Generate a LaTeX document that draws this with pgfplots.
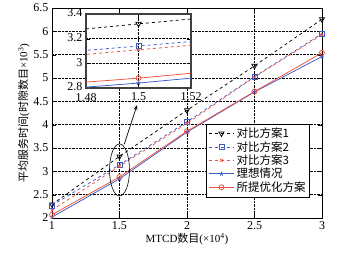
\documentclass[border=0pt]{standalone}
\usepackage{fontspec}
\setmainfont{Liberation Serif}
\newfontfamily\cjk{Noto Sans CJK SC}
\usepackage{pgfplots}
\pgfplotsset{compat=1.18}
\usetikzlibrary{calc,arrows.meta}
\definecolor{cblue}{RGB}{60,90,200}
\definecolor{cred}{RGB}{240,80,60}
\begin{document}
\begin{tikzpicture}
\pgfplotsset{every axis/.append style={/pgf/number format/assume math mode=true},
  every axis plot/.append style={line width=0.75pt},
  legend image code/.code={\draw[mark repeat=2,mark phase=2] plot coordinates {(0cm,0cm) (0.45cm,0cm) (0.9cm,0cm)};}}
\begin{axis}[name=main, scale only axis, width=270pt, height=210pt,
  xmin=1, xmax=3, ymin=2, ymax=6.5,
  xtick={1,1.5,2,2.5,3}, ytick={2,2.5,3,3.5,4,4.5,5,5.5,6,6.5},
  grid=major, major grid style={black, densely dotted, line width=0.4pt},
  tick align=inside, tick style={black}, axis line style={black, line width=0.6pt},
  ticklabel style={font=\fontsize{12}{13}\selectfont},
  xlabel={MTCD{\cjk 数目}(×10\textsuperscript{4})},
  ylabel={{\cjk 平均服务时间}(\cjk 时隙数目\rm ×10\textsuperscript{3})},
  label style={font=\fontsize{11}{12}\selectfont},
  xlabel style={yshift=3pt},
  ylabel style={yshift=-3pt},
  legend style={at={(rel axis cs:0.955,0.1)}, anchor=south east, draw=black, fill=white,
    font=\fontsize{11.5}{12.5}\selectfont\cjk, row sep=-1.8pt, inner sep=2pt},
  legend cell align=left,
]
\addplot[black, dashed, mark=triangle, mark options={solid, rotate=180}, mark size=3pt] coordinates {(1,2.29) (1.5,3.32) (2,4.31) (2.5,5.26) (3,6.26)};
\addlegendentry{对比方案1}
\addplot[cblue, dashed, mark=square, mark options={solid}, mark size=2.5pt] coordinates {(1,2.27) (1.5,3.14) (2,4.06) (2.5,5.03) (3,5.95)};
\addlegendentry{对比方案2}
\addplot[cred, dashed, mark=x, mark options={solid}, mark size=1.8pt] coordinates {(1,2.17) (1.5,3.11) (2,4.03) (2.5,5.02) (3,5.93)};
\addlegendentry{对比方案3}
\addplot[cblue, solid, mark=star, mark size=2.2pt] coordinates {(1,2.02) (1.5,2.84) (2,3.84) (2.5,4.70) (3,5.46)};
\addlegendentry{理想情况}
\addplot[cred, solid, mark=o, mark size=2.5pt] coordinates {(1,2.07) (1.5,2.88) (2,3.86) (2.5,4.71) (3,5.54)};
\addlegendentry{所提优化方案}
\draw[black, line width=0.6pt] (axis cs:1.5,3.03) ellipse [x radius=10pt, y radius=26pt];
\draw[-{Stealth[length=5pt]}, black, line width=0.7pt] (axis cs:1.535,3.58) -- (axis cs:1.63,4.42);
\end{axis}
\begin{axis}[at={($(main.south west)+(34pt,130pt)$)}, anchor=south west,
  scale only axis, width=105pt, height=74pt,
  xmin=1.48, xmax=1.52, ymin=2.8, ymax=3.4,
  xtick={1.48,1.5,1.52}, ytick={2.8,3,3.2,3.4},
  scaled ticks=false,
  xticklabels={1.48,1.5,1.52},
  grid=major, major grid style={black, densely dotted, line width=0.4pt},
  tick align=inside, tick style={black},
  axis line style={black!75, line width=1.2pt},
  axis background/.style={fill=white},
  ticklabel style={font=\fontsize{12}{13}\selectfont},
  xticklabel style={yshift=-1.5pt},
  yticklabel style={yshift=1pt},
  clip=true,
]
\addplot[black, dashed, mark=triangle, mark options={solid, rotate=180}, mark size=3pt] coordinates {(1,2.29) (1.5,3.32) (2,4.31)};
\addplot[cblue, dashed, mark=square, mark options={solid}, mark size=2.5pt] coordinates {(1,2.27) (1.5,3.14) (2,4.06)};
\addplot[cred, dashed, mark=x, mark options={solid}, mark size=1.8pt] coordinates {(1,2.17) (1.5,3.11) (2,4.03)};
\addplot[cblue, solid, mark=star, mark size=2.2pt] coordinates {(1,2.02) (1.5,2.84) (2,3.84)};
\addplot[cred, solid, mark=o, mark size=2.5pt] coordinates {(1,2.07) (1.5,2.88) (2,3.86)};
\end{axis}
\pgfresetboundingbox
\path ($(main.south west)+(-52pt,-42pt)$) rectangle ($(main.north east)+(15pt,8pt)$);
\end{tikzpicture}
\end{document}
